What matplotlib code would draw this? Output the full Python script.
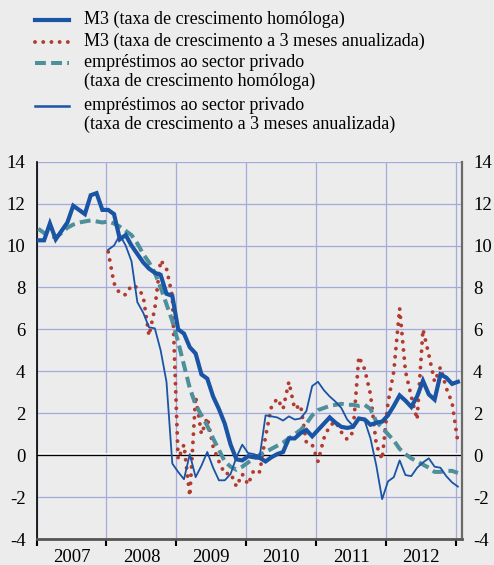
import matplotlib
matplotlib.use("Agg")
import matplotlib.pyplot as plt
from matplotlib.lines import Line2D
import numpy as np

# months since Jan 2007 (monthly observations)
m3_yoy = [10.25, 10.25, 11.05, 10.3, 10.7, 11.1, 11.9, 11.7, 11.5, 12.4, 12.5, 11.7,
          11.7, 11.5, 10.3, 10.5, 10.0, 9.6, 9.2, 8.9, 8.7, 8.6, 7.7, 7.6,
          6.0, 5.8, 5.15, 4.85, 3.85, 3.65, 2.8, 2.2, 1.5, 0.5, -0.2, -0.25,
          -0.05, -0.1, -0.13, -0.3, -0.1, 0.05, 0.15, 0.8, 0.8, 1.05, 1.2, 0.9,
          1.2, 1.5, 1.8, 1.55, 1.35, 1.3, 1.35, 1.75, 1.7, 1.45, 1.55, 1.6,
          1.9, 2.35, 2.85, 2.6, 2.3, 2.8, 3.55, 2.9, 2.65, 3.85, 3.7, 3.4, 3.5]

m3_3m = [9.7, 8.2, 7.7, 7.65, 8.1, 8.0, 7.6, 5.7, 7.0, 9.3, 8.9, 7.6,
         -0.2, 0.5, -1.95, 2.8, 1.0, 1.8, 0.4, -0.3, -0.9, -0.85, -1.5, -0.9,
         -1.4, -0.7, -0.8, 0.9, 2.3, 2.7, 2.2, 3.5, 2.2, 2.4, 0.6, 0.5,
         -0.3, 0.8, 1.4, 1.6, 1.1, 0.75, 1.1, 4.7, 4.1, 2.9, 0.5, -0.2,
         2.5, 4.0, 7.0, 4.0, 2.8, 1.7, 6.0, 4.8, 3.5, 4.2, 3.2, 2.5, 0.6]

loans_yoy = [10.8, 10.6, 10.45, 10.4, 10.6, 10.85, 11.0, 11.1, 11.15, 11.2, 11.15, 11.1,
             11.15, 11.05, 10.9, 10.7, 10.5, 10.1, 9.6, 9.2, 8.7, 8.0, 7.2, 6.4,
             5.4, 4.3, 3.2, 2.4, 1.9, 1.4, 0.8, 0.25, -0.3, -0.55, -0.7, -0.55,
             -0.35, -0.15, 0.02, 0.15, 0.3, 0.45, 0.6, 0.8, 1.0, 1.2, 1.5, 1.9,
             2.15, 2.25, 2.35, 2.4, 2.45, 2.4, 2.4, 2.35, 2.4, 2.2, 1.6, 1.3,
             1.0, 0.7, 0.3, 0.05, -0.15, -0.3, -0.45, -0.6, -0.8, -0.8, -0.75, -0.75, -0.85]

loans_3m = [9.8, 10.0, 10.5, 10.0, 9.25, 7.3, 6.8, 6.1, 6.05, 5.0, 3.5, -0.4,
            -0.8, -1.15, 0.05, -1.05, -0.5, 0.15, -0.6, -1.2, -1.2, -0.9, -0.1, 0.5,
            0.1, 0.05, -0.05, 1.9, 1.85, 1.8, 1.65, 1.85, 1.7, 1.75, 2.1, 3.3,
            3.5, 3.1, 2.8, 2.55, 2.25, 1.7, 1.4, 1.75, 1.65, 0.8, -0.5, -2.1,
            -1.25, -1.05, -0.25, -0.95, -1.0, -0.6, -0.35, -0.15, -0.55, -0.6, -1.0, -1.3, -1.5]

years = ["2007", "2008", "2009", "2010", "2011", "2012"]
labels = ["M3 (taxa de crescimento homóloga)",
          "M3 (taxa de crescimento a 3 meses anualizada)",
          "empréstimos ao sector privado\n(taxa de crescimento homóloga)",
          "empréstimos ao sector privado\n(taxa de crescimento a 3 meses anualizada)"]

BLUE = "#1a54a4"
RED = "#b23a2f"
TEAL = "#4e8f9c"
BG = "#ececec"
GRID = "#a4abdc"
DOTS = (0, (0.01, 2.1))

plt.rcParams["font.family"] = ["Liberation Serif", "DejaVu Serif"]

W, H = 494, 565
fig = plt.figure(figsize=(W / 100, H / 100), dpi=100, facecolor=BG)
ax = fig.add_axes([36.5 / W, 26 / H, 425.5 / W, 377.3 / H], facecolor=BG)

x_all = np.arange(len(m3_yoy)) + 0.3
x_late = np.arange(len(m3_3m)) + 12.3

ax.plot(x_late, m3_3m, color=RED, lw=2.8, linestyle=DOTS,
        dash_capstyle="round", zorder=3)
ax.plot(x_all, loans_yoy, color=TEAL, lw=2.9, linestyle=(0, (2.7, 1.3)), zorder=4)
ax.plot(x_late, loans_3m, color=BLUE, lw=1.3, zorder=5)
ax.plot(x_all, m3_yoy, color=BLUE, lw=3.0, zorder=6, solid_joinstyle="miter")

ax.axhline(0, color="white", lw=2.6, zorder=2)
ax.axhline(0.03, color="black", lw=1.0, zorder=2.1)

ax.set_xlim(0, 73)
ax.set_ylim(-4, 14)
ax.set_yticks(range(-4, 15, 2))
ax.set_yticklabels([str(v) for v in range(-4, 15, 2)])
ax.set_xticks(range(0, 73, 12))
ax.set_xticklabels([])
ax.set_xticks(np.arange(6, 72, 12), minor=True)
ax.set_xticklabels(years, minor=True)
ax.tick_params(axis="x", which="major", direction="out", length=5, width=1.5, color="black")
ax.tick_params(axis="x", which="minor", length=0, pad=7, labelsize=13.5)
ax.tick_params(axis="y", length=0, labelsize=13.5, pad=8, labelleft=True, labelright=True)

ax.grid(True, which="major", color=GRID, lw=0.9, zorder=0)
ax.set_axisbelow(True)
ax.spines["top"].set_visible(False)
ax.spines["left"].set_color("black")
ax.spines["left"].set_linewidth(1.2)
ax.spines["right"].set_color("#6a6a6a")
ax.spines["right"].set_linewidth(1.6)
ax.spines["bottom"].set_color("#555555")
ax.spines["bottom"].set_linewidth(2)

# legend drawn by hand, handle aligned with first text line
rows = [20, 42, 63, 106]
styles = [dict(color=BLUE, lw=3.0),
          dict(color=RED, lw=2.8, linestyle=DOTS, dash_capstyle="round"),
          dict(color=TEAL, lw=2.9, linestyle=(0, (2.7, 1.3))),
          dict(color=BLUE, lw=1.8)]
for y, lab, st in zip(rows, labels, styles):
    fig.add_artist(Line2D([35 / W, 69 / W], [1 - y / H, 1 - y / H], **st))
    fig.text(84 / W, 1 - (y - 9) / H, lab, fontsize=13, va="top", ha="left",
             linespacing=1.1)

fig.savefig("out.png", dpi=100, facecolor=BG)
